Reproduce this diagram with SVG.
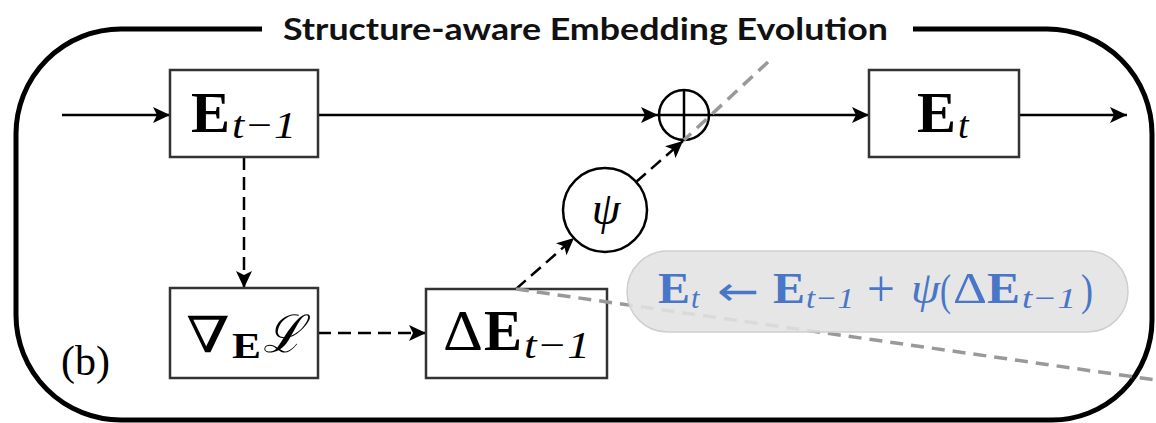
<svg xmlns="http://www.w3.org/2000/svg" width="1156" height="423" viewBox="0 0 1156 423">
<style>
.box{fill:#fff;stroke:#333;stroke-width:2.5}
.ln{fill:none;stroke:#000;stroke-width:2.5}
.dash{fill:none;stroke:#000;stroke-width:2.5;stroke-dasharray:13 7}
.gray{fill:none;stroke:#999;stroke-width:3.5;stroke-dasharray:13 8}
.m{font-family:"Liberation Serif","DejaVu Serif",serif;fill:#000}
.b{font-weight:bold}
.i{font-style:italic}
.blue{fill:#4a76c8}
</style>
<defs>
<marker id="ah" markerUnits="userSpaceOnUse" markerWidth="18" markerHeight="16" refX="17" refY="8" orient="auto">
<path d="M0,0 L17,8 L0,16 L4,8 Z" fill="#000"/>
</marker>
</defs>
<path d="M262,29 L121,29 A105,105 0 0 0 16,134 L16,315 A105,105 0 0 0 121,420 L1052,420 A100,100 0 0 0 1152,320 L1152,134 A105,105 0 0 0 1047,29 L913,29" fill="none" stroke="#000" stroke-width="5"/>
<text x="283" y="40" font-family="Lato,'Open Sans',sans-serif" font-weight="bold" font-size="31" textLength="605" lengthAdjust="spacingAndGlyphs" fill="#111">Structure-aware Embedding Evolution</text>
<text x="61" y="375" class="m" font-size="42">(b)</text>

<g id="connectors">
<line class="ln" x1="62" y1="115" x2="170" y2="115" marker-end="url(#ah)"/>
<line class="ln" x1="318" y1="115" x2="658" y2="115" marker-end="url(#ah)"/>
<line class="ln" x1="709" y1="115" x2="869" y2="115" marker-end="url(#ah)"/>
<line class="ln" x1="1019" y1="115" x2="1127" y2="115" marker-end="url(#ah)"/>
<line class="dash" x1="244" y1="157" x2="244" y2="288" marker-end="url(#ah)"/>
<line class="dash" x1="318" y1="333" x2="426" y2="333" marker-end="url(#ah)"/>
<line class="dash" x1="516" y1="289" x2="574" y2="238" marker-end="url(#ah)"/>
<line class="dash" x1="636" y1="182" x2="683" y2="141" marker-end="url(#ah)"/>
</g>

<g id="node-Etm1">
<rect class="box" x="170" y="70" width="148" height="87"/>
<text class="m b" x="191" y="132" font-size="56" textLength="39" lengthAdjust="spacingAndGlyphs">E</text>
<text class="m i" x="232" y="138" font-size="38" textLength="64" lengthAdjust="spacingAndGlyphs">t−1</text>
</g>
<g id="node-Et">
<rect class="box" x="869" y="70" width="150" height="87"/>
<text class="m b" x="917" y="132" font-size="56" textLength="39" lengthAdjust="spacingAndGlyphs">E</text>
<text class="m i" x="958" y="138" font-size="38">t</text>
</g>
<g id="node-grad">
<rect class="box" x="170" y="288" width="148" height="90"/>
<text x="186" y="352" font-family="'DejaVu Serif',serif" font-size="50" textLength="44" lengthAdjust="spacingAndGlyphs">∇</text>
<text class="m b" x="232" y="358" font-size="36" textLength="29" lengthAdjust="spacingAndGlyphs">E</text>
<text class="m i" x="263" y="352" font-size="52" textLength="40" lengthAdjust="spacingAndGlyphs">ℒ</text>
</g>
<g id="node-dE">
<rect class="box" x="426" y="289" width="181" height="89"/>
<text class="m" x="443" y="350" font-size="56" textLength="40" lengthAdjust="spacingAndGlyphs">Δ</text>
<text class="m b" x="484" y="350" font-size="56" textLength="38" lengthAdjust="spacingAndGlyphs">E</text>
<text class="m i" x="524" y="358" font-size="38" textLength="66" lengthAdjust="spacingAndGlyphs">t−1</text>
</g>
<g id="node-psi">
<circle cx="605" cy="210" r="42" fill="#fff" stroke="#000" stroke-width="2.5"/>
<text class="m i" x="606" y="224" font-size="46" text-anchor="middle">ψ</text>
</g>
<g id="node-plus">
<circle cx="684" cy="115" r="25" fill="none" stroke="#000" stroke-width="2.5"/>
<line x1="684" y1="90" x2="684" y2="140" stroke="#000" stroke-width="2.5"/>
<line x1="659" y1="115" x2="709" y2="115" stroke="#000" stroke-width="2.5"/>
</g>

<g id="zoomlines">
<line class="gray" x1="768" y1="62" x2="684" y2="140"/>
<line class="gray" x1="516" y1="289" x2="1156" y2="380"/>
</g>

<g id="node-formula">
<rect x="627" y="251" width="501" height="81" rx="40.5" fill="#e2e2e2" fill-opacity="0.88" stroke="#cfcfcf" stroke-width="1.5"/>
<text class="m b blue" x="658" y="303" font-size="45" textLength="32" lengthAdjust="spacingAndGlyphs">E</text>
<text class="m i blue" x="691" y="308" font-size="30">t</text>
<text x="717" y="305" font-family="'DejaVu Sans',sans-serif" font-size="40" fill="#4a76c8" textLength="42" lengthAdjust="spacingAndGlyphs">←</text>
<text class="m b blue" x="773" y="303" font-size="45" textLength="32" lengthAdjust="spacingAndGlyphs">E</text>
<text class="m i blue" x="806" y="308" font-size="30" textLength="48" lengthAdjust="spacingAndGlyphs">t−1</text>
<text class="m blue" x="867" y="306" font-size="52" textLength="28" lengthAdjust="spacingAndGlyphs">+</text>
<text class="m i blue" x="911" y="303" font-size="44" textLength="29" lengthAdjust="spacingAndGlyphs">ψ</text>
<text class="m blue" x="940" y="305" font-size="44" textLength="11" lengthAdjust="spacingAndGlyphs">(</text>
<text class="m blue" x="953" y="303" font-size="44" textLength="34" lengthAdjust="spacingAndGlyphs">Δ</text>
<text class="m b blue" x="987" y="303" font-size="45" textLength="33" lengthAdjust="spacingAndGlyphs">E</text>
<text class="m i blue" x="1022" y="308" font-size="30" textLength="54" lengthAdjust="spacingAndGlyphs">t−1</text>
<text class="m blue" x="1081" y="305" font-size="44" textLength="12" lengthAdjust="spacingAndGlyphs">)</text>
</g>
</svg>
